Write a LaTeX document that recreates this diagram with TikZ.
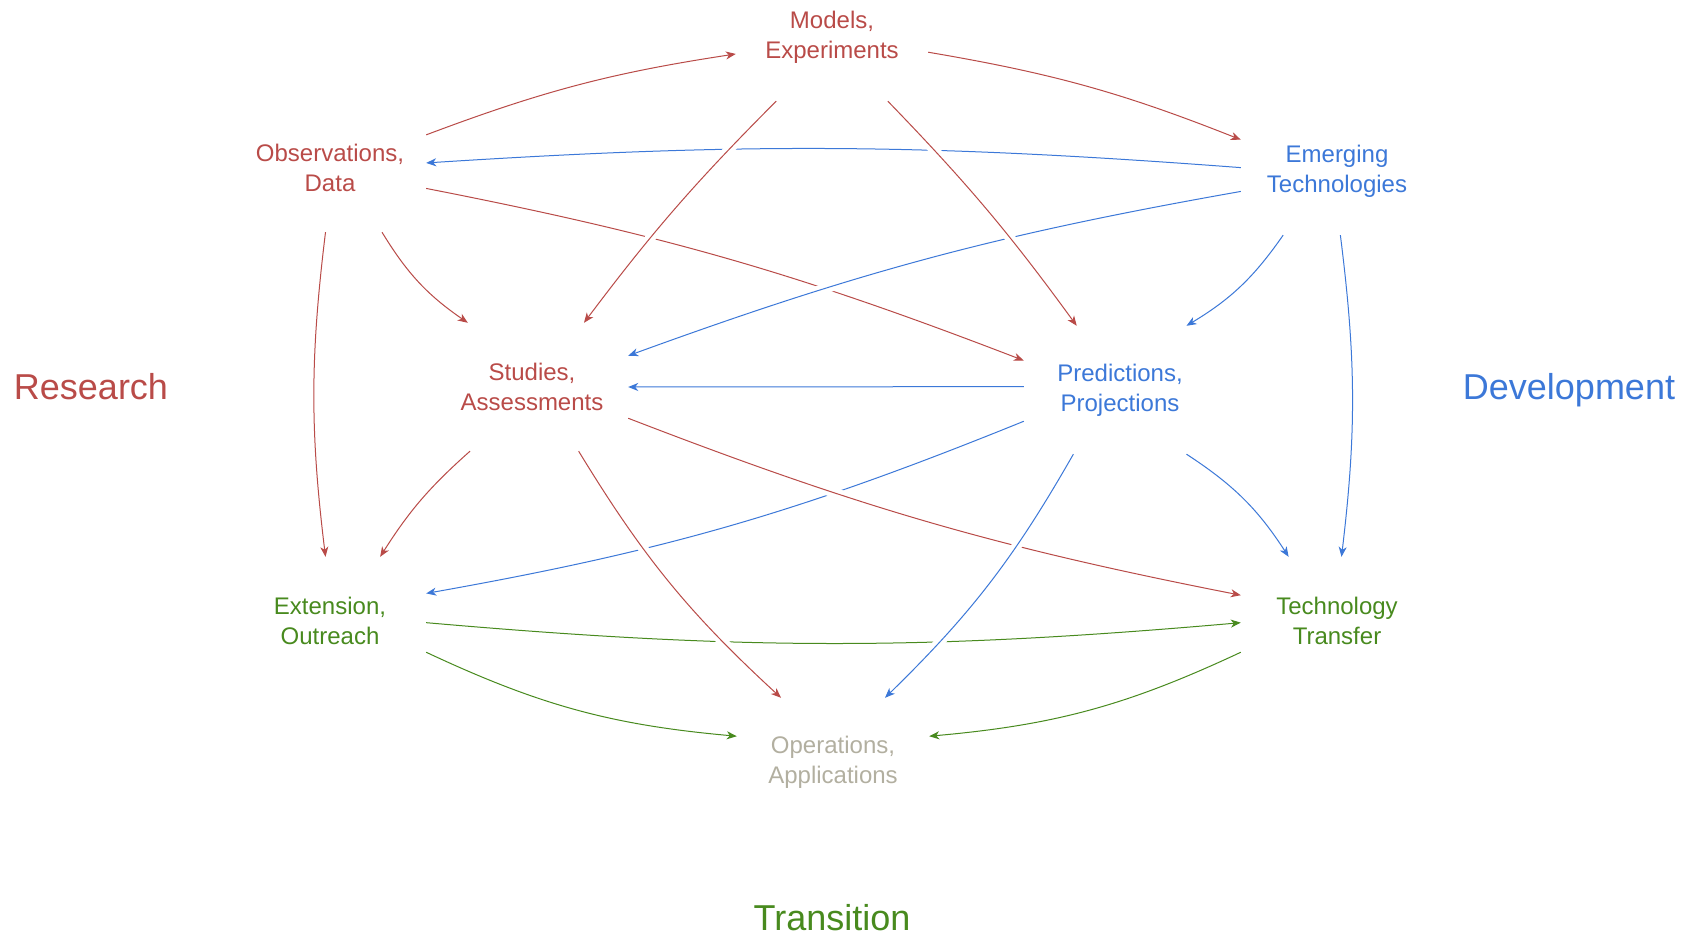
\documentclass[tikz,border=0pt]{standalone}
\usepackage{fontspec}
\setmainfont{Liberation Sans}
\usetikzlibrary{arrows.meta}
\definecolor{rred}{RGB}{185,75,72}
\definecolor{dblue}{RGB}{60,120,216}
\definecolor{tgreen}{RGB}{72,138,30}
\definecolor{opgray}{RGB}{178,175,160}
\begin{document}
\begin{tikzpicture}[x=1pt,y=1pt,
  box/.style={minimum width=192pt, minimum height=128pt, inner sep=0pt, align=center, font=\fontsize{24}{30}\selectfont},
  biglabel/.style={font=\fontsize{36}{40}\selectfont, inner sep=0pt, anchor=base},
  conn/.style={line width=1pt, -{Stealth[length=10pt,width=8pt,inset=3pt]}, preaction={draw=white, line width=10pt, -}},
]
\useasboundingbox (0,0) rectangle (1697,936);
\node[box, text=rred] (models) at (832,899) {Models,\\Experiments};
\node[box, text=rred] (obs) at (330,768) {Observations,\\Data};
\node[box, text=dblue] (emerg) at (1337,765) {Emerging\\Technologies};
\node[box, text=rred] (studies) at (532,549) {Studies,\\Assessments};
\node[box, text=dblue] (pred) at (1120,546) {Predictions,\\Projections};
\node[box, text=tgreen] (ext) at (330,315) {Extension,\\Outreach};
\node[box, text=tgreen] (tt) at (1337,315) {Technology\\Transfer};
\node[box, text=opgray] (ops) at (833,174) {Operations,\\Applications};
\node[biglabel, text=rred] (research) at (91,536) {Research};
\node[biglabel, text=dblue] (development) at (1569,536) {Development};
\node[biglabel, text=tgreen] (transition) at (832,5) {Transition};
% layer 1
\draw[conn, dblue] (emerg.178) to[bend right=4] (obs.3.4);
\draw[conn, tgreen] (ext.-1.8) to[bend right=5] (tt.181.7);
\draw[conn, dblue] (pred.198.5) to[bend left=6] (ext.16.4);
\draw[conn, rred] (obs.-12.9) to[bend left=5] (pred.163);
\draw[conn, rred] (obs.19) to[bend left=6] (models.190);
\draw[conn, rred] (models.-9) to[bend left=6] (emerg.162);
\draw[conn, rred] (obs.-94.2) to[bend right=7] (ext.94);
\draw[conn, dblue] (emerg.-87) to[bend left=7] (tt.86);
\draw[conn, rred] (obs.-51) to[bend right=12] (studies.135.5);
\draw[conn, rred] (studies.226) to[bend right=8] (ext.52);
\draw[conn, dblue] (emerg.230) to[bend left=12] (pred.44);
\draw[conn, dblue] (pred.-44) to[bend left=12] (tt.127.9);
\draw[conn, dblue] (pred.178.2) -- (studies.0);
\draw[conn, tgreen] (ext.-18.2) to[bend right=10] (ops.165);
\draw[conn, tgreen] (tt.198) to[bend left=10] (ops.15);
% layer 2
\draw[conn, dblue] (emerg.192.5) to[bend right=5] (studies.18.8);
\draw[conn, rred] (studies.-18.8) to[bend right=5] (tt.165.3);
% layer 3
\draw[conn, rred] (models.229) to[bend right=4] (studies.51.7);
\draw[conn, rred] (models.-49) to[bend left=4] (pred.124);
\draw[conn, rred] (studies.-54.2) to[bend right=8] (ops.129);
\draw[conn, dblue] (pred.234) to[bend left=8] (ops.51);
\end{tikzpicture}
\end{document}
